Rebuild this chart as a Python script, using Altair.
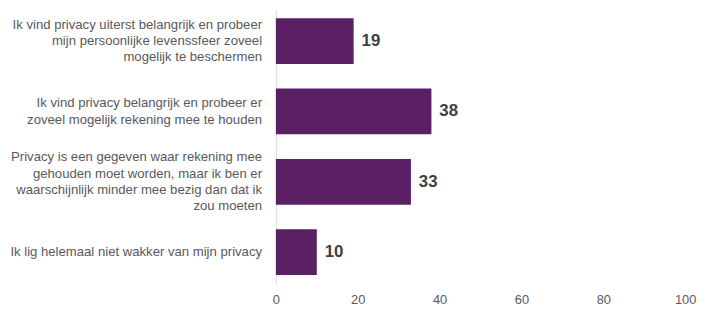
import altair as alt
import pandas as pd

categories = [
    "Ik vind privacy uiterst belangrijk en probeer|mijn persoonlijke levenssfeer zoveel|mogelijk te beschermen",
    "Ik vind privacy belangrijk en probeer er|zoveel mogelijk rekening mee te houden",
    "Privacy is een gegeven waar rekening mee|gehouden moet worden, maar ik ben er|waarschijnlijk minder mee bezig dan dat ik|zou moeten",
    "Ik lig helemaal niet wakker van mijn privacy",
]
values = [19, 38, 33, 10]
x_ticks = [0, 20, 40, 60, 80, 100]

df = pd.DataFrame({"cat": categories, "val": values})

FONT = "Liberation Sans"
LINE_H = 16.5
H = 277
P_IN, P_OUT = 0.35, 0.12
step = H / (len(categories) - P_IN + 2 * P_OUT)
half_band = step * (1 - P_IN) / 2

y_scale = alt.Scale(paddingInner=P_IN, paddingOuter=P_OUT)

y_enc = alt.Y(
    "cat:N",
    sort=categories,
    scale=y_scale,
    axis=alt.Axis(
        title=None,
        labels=False,
        ticks=False,
        domain=True,
        domainColor="#d9d9d9",
        domainWidth=1,
        grid=False,
    ),
)

x_enc = alt.X(
    "val:Q",
    scale=alt.Scale(domain=[0, 100], nice=False),
    axis=alt.Axis(
        title=None,
        values=x_ticks,
        labelFont=FONT,
        labelFontSize=13,
        labelColor="#595959",
        labelPadding=10,
        labelFlush=False,
        ticks=False,
        domain=False,
        grid=False,
    ),
)

bars = alt.Chart(df).mark_bar(color="#5b1f65").encode(x=x_enc, y=y_enc)

text = alt.Chart(df).mark_text(
    align="left", baseline="middle", dx=8, font=FONT, fontSize=17, fontWeight="bold", color="#404040"
).encode(x="val:Q", y=alt.Y("cat:N", sort=categories), text="val:Q")

cat_labels = (
    alt.Chart(df)
    .transform_calculate(
        lines="split(datum.cat, '|')",
        off=f"{half_band} - (length(split(datum.cat, '|')) - 1) * {LINE_H} / 2",
    )
    .mark_text(
        align="right", baseline="middle", font=FONT, fontSize=13.3, color="#595959",
        lineHeight=LINE_H,
    )
    .encode(
        x=alt.value(-14),
        y=alt.Y("cat:N", sort=categories),
        yOffset=alt.YOffset("off:Q", scale=None),
        text="lines:N",
    )
)

chart = (
    alt.layer(bars, text, cat_labels)
    .properties(width=414, height=H, autosize=alt.AutoSizeParams(type="none"),
                padding={"left": 271, "top": 0, "right": 12, "bottom": 24},
                background="white")
    .configure_view(strokeWidth=0, stroke="transparent")
)

chart.save("out.html", embed_options={"renderer": "svg", "actions": False})
